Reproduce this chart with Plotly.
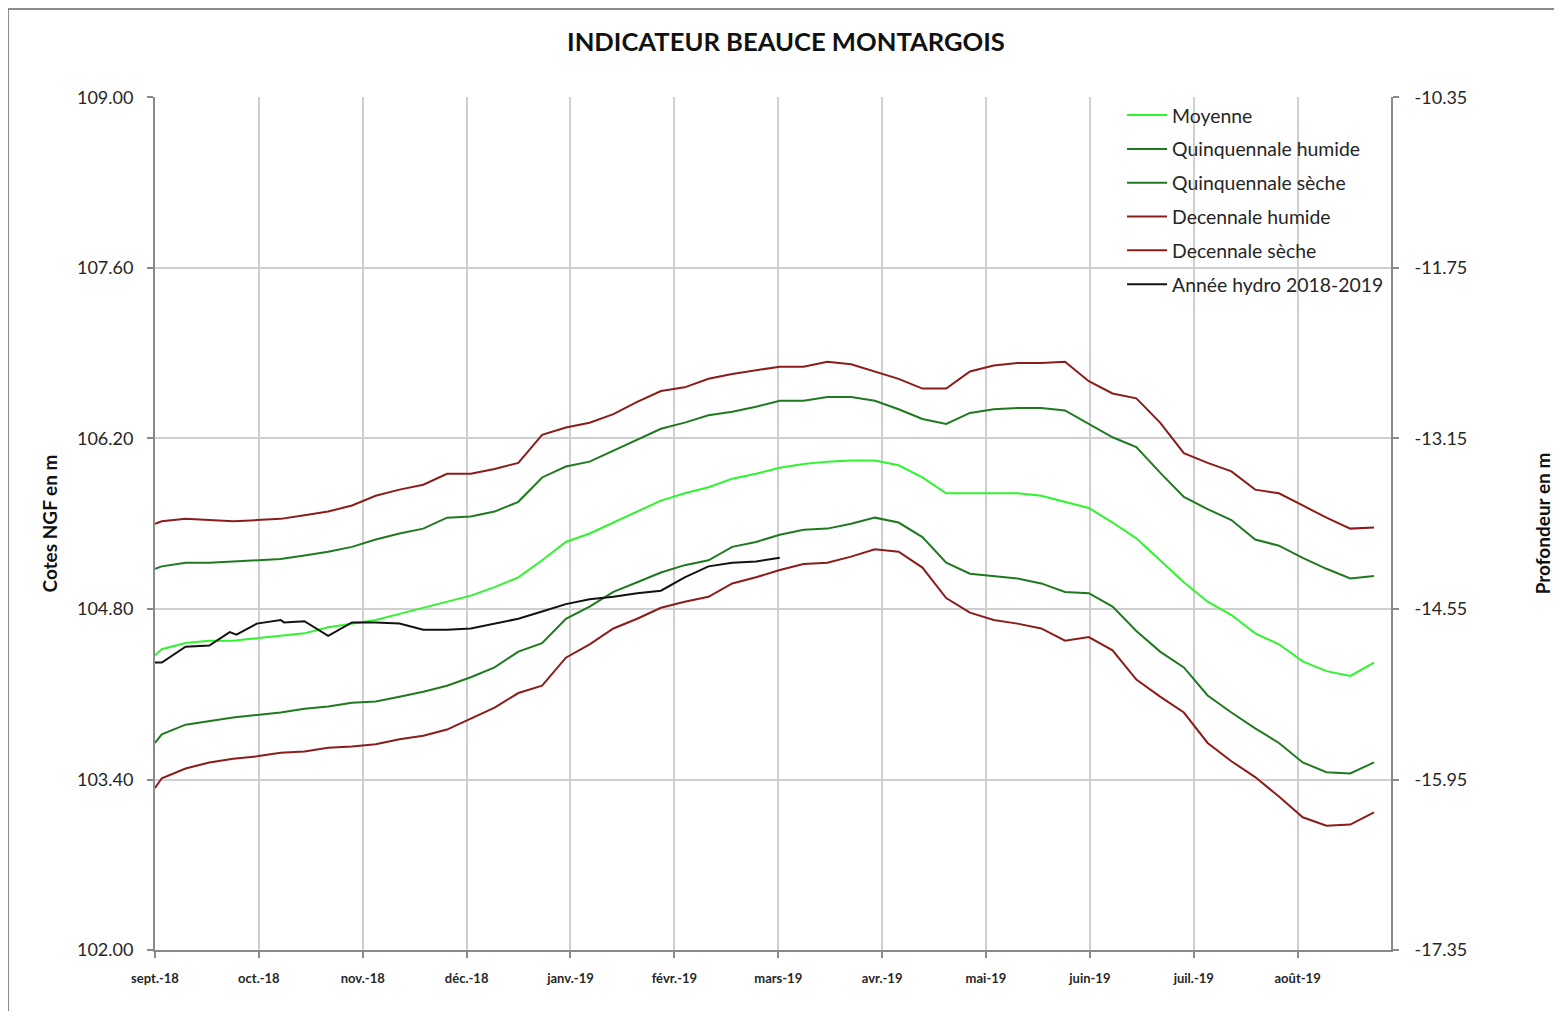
import plotly.graph_objects as go
import pandas as pd

# ---------------- data ----------------
REF_DATES = [
    "2018-09-01", "2018-09-03", "2018-09-10", "2018-09-17", "2018-09-24",
    "2018-10-01", "2018-10-08", "2018-10-15", "2018-10-22", "2018-10-29",
    "2018-11-05", "2018-11-12", "2018-11-19", "2018-11-26",
    "2018-12-03", "2018-12-10", "2018-12-17", "2018-12-24", "2018-12-31",
    "2019-01-07", "2019-01-14", "2019-01-21", "2019-01-28",
    "2019-02-04", "2019-02-11", "2019-02-18", "2019-02-25",
    "2019-03-04", "2019-03-11", "2019-03-18", "2019-03-25",
    "2019-04-01", "2019-04-08", "2019-04-15", "2019-04-22", "2019-04-29",
    "2019-05-06", "2019-05-13", "2019-05-20", "2019-05-27",
    "2019-06-03", "2019-06-10", "2019-06-17", "2019-06-24",
    "2019-07-01", "2019-07-08", "2019-07-15", "2019-07-22", "2019-07-29",
    "2019-08-05", "2019-08-12", "2019-08-19", "2019-08-26",
]

MOYENNE = [104.42, 104.47, 104.52, 104.54, 104.54, 104.56, 104.58, 104.60, 104.65, 104.68,
           104.71, 104.76, 104.81, 104.86, 104.91, 104.98, 105.06, 105.20, 105.35, 105.42,
           105.51, 105.60, 105.69, 105.75, 105.80, 105.87, 105.91, 105.96, 105.99, 106.01,
           106.02, 106.02, 105.98, 105.88, 105.75, 105.75, 105.75, 105.75, 105.73, 105.68,
           105.63, 105.51, 105.38, 105.20, 105.02, 104.86, 104.75, 104.60, 104.51, 104.37,
           104.29, 104.25, 104.36]

QUINQ_HUMIDE = [105.13, 105.15, 105.18, 105.18, 105.19, 105.20, 105.21, 105.24, 105.27, 105.31,
                105.37, 105.42, 105.46, 105.55, 105.56, 105.60, 105.68, 105.88, 105.97, 106.01,
                106.10, 106.19, 106.28, 106.33, 106.39, 106.42, 106.46, 106.51, 106.51, 106.54,
                106.54, 106.51, 106.44, 106.36, 106.32, 106.41, 106.44, 106.45, 106.45, 106.43,
                106.32, 106.21, 106.13, 105.92, 105.72, 105.62, 105.53, 105.37, 105.32, 105.22,
                105.13, 105.05, 105.07]

QUINQ_SECHE = [103.70, 103.77, 103.85, 103.88, 103.91, 103.93, 103.95, 103.98, 104.00, 104.03,
               104.04, 104.08, 104.12, 104.17, 104.24, 104.32, 104.45, 104.52, 104.72, 104.82,
               104.94, 105.02, 105.10, 105.16, 105.20, 105.31, 105.35, 105.41, 105.45, 105.46,
               105.50, 105.55, 105.51, 105.39, 105.18, 105.09, 105.07, 105.05, 105.01, 104.94,
               104.93, 104.82, 104.62, 104.45, 104.32, 104.09, 103.95, 103.82, 103.70, 103.54,
               103.46, 103.45, 103.54]

DEC_HUMIDE = [105.50, 105.52, 105.54, 105.53, 105.52, 105.53, 105.54, 105.57, 105.60, 105.65,
              105.73, 105.78, 105.82, 105.91, 105.91, 105.95, 106.00, 106.23, 106.29, 106.33,
              106.40, 106.50, 106.59, 106.62, 106.69, 106.73, 106.76, 106.79, 106.79, 106.83,
              106.81, 106.75, 106.69, 106.61, 106.61, 106.75, 106.80, 106.82, 106.82, 106.83,
              106.67, 106.57, 106.53, 106.33, 106.08, 106.00, 105.93, 105.78, 105.75, 105.65,
              105.55, 105.46, 105.47]

DEC_SECHE = [103.33, 103.41, 103.49, 103.54, 103.57, 103.59, 103.62, 103.63, 103.66, 103.67,
             103.69, 103.73, 103.76, 103.81, 103.90, 103.99, 104.11, 104.17, 104.40, 104.51,
             104.64, 104.72, 104.81, 104.86, 104.90, 105.01, 105.06, 105.12, 105.17, 105.18,
             105.23, 105.29, 105.27, 105.14, 104.89, 104.77, 104.71, 104.68, 104.64, 104.54,
             104.57, 104.46, 104.22, 104.08, 103.95, 103.70, 103.55, 103.42, 103.26, 103.09,
             103.02, 103.03, 103.13]

HYDRO_DATES = [
    "2018-09-01", "2018-09-03", "2018-09-10", "2018-09-17", "2018-09-23", "2018-09-25",
    "2018-10-01", "2018-10-08", "2018-10-09", "2018-10-15", "2018-10-22", "2018-10-29",
    "2018-11-05", "2018-11-12", "2018-11-19", "2018-11-26",
    "2018-12-03", "2018-12-10", "2018-12-17", "2018-12-24", "2018-12-31",
    "2019-01-07", "2019-01-14", "2019-01-21", "2019-01-28",
    "2019-02-04", "2019-02-11", "2019-02-18", "2019-02-25", "2019-03-04",
]
HYDRO_2018_2019 = [104.36, 104.36, 104.49, 104.50, 104.61, 104.59,
                   104.68, 104.71, 104.69, 104.70, 104.58, 104.69,
                   104.69, 104.68, 104.63, 104.63,
                   104.64, 104.68, 104.72, 104.78, 104.84,
                   104.88, 104.90, 104.93, 104.95,
                   105.06, 105.15, 105.18, 105.19, 105.22]

# depth (right axis) = NGF level - reference level
REFERENCE_LEVEL = 119.35

MONTH_LABELS = ["sept.-18", "oct.-18", "nov.-18", "déc.-18", "janv.-19", "févr.-19",
                "mars-19", "avr.-19", "mai-19", "juin-19", "juil.-19", "août-19"]
LEFT_TICKS = [102.00, 103.40, 104.80, 106.20, 107.60, 109.00]
RIGHT_TICKS = [-17.35, -15.95, -14.55, -13.15, -11.75, -10.35]

# ---------------- styling ----------------
X_START = pd.Timestamp("2018-09-01")
X_END = pd.Timestamp("2019-08-31")
MONTH_SLOT_DAYS = 30.59  # month labels are evenly spaced along the axis
tick_positions = [(X_START + pd.Timedelta(days=i * MONTH_SLOT_DAYS)).strftime("%Y-%m-%d %H:%M:%S")
                  for i in range(len(MONTH_LABELS))]

FONT = "Lato, 'Open Sans', sans-serif"
GRID = "#cfcfcf"
AXIS = "#8a8a8a"
LIME = "#2ef52e"
DKGREEN = "#1f7a1f"
DKRED = "#8b1c1c"
TOP_PAD = 0.004  # lets the 109.00 gridline show at the top edge

series = [
    ("Moyenne", REF_DATES, MOYENNE, LIME),
    ("Quinquennale humide", REF_DATES, QUINQ_HUMIDE, DKGREEN),
    ("Quinquennale sèche", REF_DATES, QUINQ_SECHE, DKGREEN),
    ("Decennale humide", REF_DATES, DEC_HUMIDE, DKRED),
    ("Decennale sèche", REF_DATES, DEC_SECHE, DKRED),
    ("Année hydro 2018-2019", HYDRO_DATES, HYDRO_2018_2019, "#111111"),
]

fig = go.Figure()
for i, (name, xs, ys, col) in enumerate(series):
    fig.add_trace(go.Scatter(x=xs, y=ys, name=name, mode="lines",
                             line=dict(color=col, width=2),
                             legendgroup=f"g{i}"))

# same hydro year expressed as depth, carried by the right axis (not drawn twice)
fig.add_trace(go.Scatter(x=HYDRO_DATES, y=[v - REFERENCE_LEVEL for v in HYDRO_2018_2019],
                         yaxis="y2", mode="lines", opacity=0, showlegend=False,
                         hoverinfo="skip", line=dict(color="#111111", width=1)))

fig.update_layout(
    width=1546, height=1003,
    margin=dict(l=147, r=163, t=89, b=61, autoexpand=False),
    paper_bgcolor="white", plot_bgcolor="white",
    font=dict(family=FONT, color="#262626"),
    title=dict(text="INDICATEUR BEAUCE MONTARGOIS", x=0.5032, xref="container",
               y=0.966, yref="container", xanchor="center", yanchor="middle",
               font=dict(size=25.6, color="#111111", weight="bold", family=FONT)),
    legend=dict(x=0.7824, y=1.0012, xanchor="left", yanchor="top",
                bgcolor="rgba(0,0,0,0)", font=dict(size=19.4, color="#262626"),
                tracegroupgap=5.6, itemwidth=40),
    xaxis=dict(type="date", range=[X_START, X_END], tickmode="array",
               tickvals=tick_positions, ticktext=MONTH_LABELS,
               showgrid=True, gridcolor=GRID, gridwidth=1.5,
               showline=True, linecolor=AXIS, linewidth=2,
               ticks="outside", ticklen=6, tickcolor=AXIS, tickwidth=1.5,
               tickfont=dict(size=13, weight="bold", color="#262626"),
               ticklabelstandoff=9, zeroline=False, automargin=False),
    yaxis=dict(range=[102, 109 + TOP_PAD], tickmode="array", tickvals=LEFT_TICKS,
               ticktext=[f"{v:.2f}" for v in LEFT_TICKS],
               showgrid=True, gridcolor=GRID, gridwidth=1.5,
               showline=True, linecolor=AXIS, linewidth=2,
               ticks="outside", ticklen=6, tickcolor=AXIS, tickwidth=1.5,
               tickfont=dict(size=18, color="#262626"), ticklabelstandoff=10,
               title=dict(text="Cotes NGF en m", standoff=14,
                          font=dict(size=19, weight="bold", color="#111111")),
               zeroline=False, automargin=False),
    yaxis2=dict(overlaying="y", side="right", anchor="x",
                range=[RIGHT_TICKS[0], RIGHT_TICKS[-1] + TOP_PAD], tickmode="array",
                tickvals=RIGHT_TICKS, ticktext=[f"{v:.2f}" for v in RIGHT_TICKS],
                showgrid=False, showline=True, linecolor=AXIS, linewidth=2,
                ticks="outside", ticklen=6, tickcolor=AXIS, tickwidth=1.5,
                tickfont=dict(size=18, color="#262626"), ticklabelstandoff=12,
                title=dict(text="Profondeur en m", standoff=76,
                           font=dict(size=19, weight="bold", color="#111111")),
                zeroline=False, automargin=False),
)

# chart-area frame (only its left and top edges fall inside the page)
fig.add_shape(type="rect", xref="paper", yref="paper",
              x0=-0.1189, x1=1.2, y0=-0.2, y1=1.1032,
              line=dict(color="#8c8c8c", width=2), fillcolor="rgba(0,0,0,0)", layer="below")

fig.write_html("out.html")
